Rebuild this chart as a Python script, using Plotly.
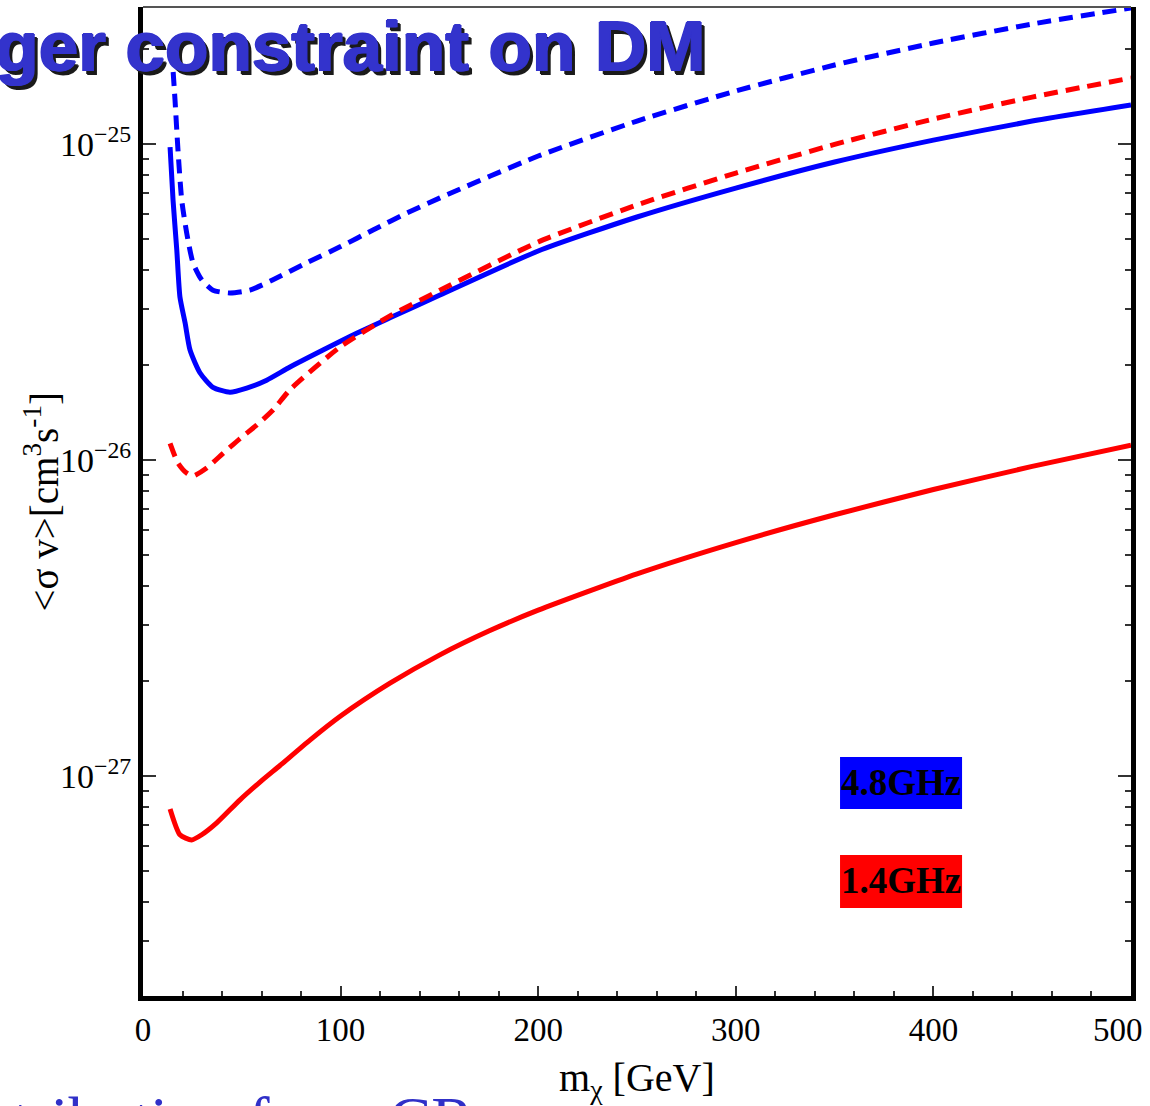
import plotly.graph_objects as go

# DM mass [GeV] and <sigma v> upper limits [cm^3 s^-1]
mass_48_dash = [14.5, 16.2, 17.7, 19.6, 22.1, 25.3, 29.7, 35.4, 44.0, 54.1, 65.8, 82.8,
                99.7, 116.4, 133.5, 150.3, 200, 250, 300, 350, 400, 450, 500]
sv_48_dash = [1.99e-25, 1.38e-25, 9.57e-26, 6.65e-26, 5.24e-26, 4.21e-26, 3.72e-26, 3.45e-26,
              3.38e-26, 3.45e-26, 3.72e-26, 4.21e-26, 4.73e-26, 5.35e-26, 6.05e-26, 6.76e-26,
              9.17e-26, 1.183e-25, 1.473e-25, 1.780e-25, 2.089e-25, 2.400e-25, 2.696e-25]

mass_48_solid = [13.7, 15.2, 17.1, 18.7, 21.3, 23.8, 28.8, 35.4, 44.0, 52.5, 62.6, 74.4,
                 91.1, 108.1, 125.0, 150.3, 200, 250, 300, 350, 400, 450, 500]
sv_48_solid = [9.79e-26, 6.65e-26, 4.62e-26, 3.28e-26, 2.72e-26, 2.23e-26, 1.89e-26, 1.70e-26,
               1.64e-26, 1.69e-26, 1.79e-26, 1.97e-26, 2.23e-26, 2.52e-26, 2.82e-26, 3.33e-26,
               4.59e-26, 5.88e-26, 7.26e-26, 8.78e-26, 1.030e-25, 1.183e-25, 1.330e-25]

mass_14_dash = [13.7, 17.7, 22.1, 25.3, 32.2, 40.5, 49.1, 57.5, 65.8, 74.4, 99.7, 125.0,
                150.3, 200, 250, 300, 350, 400, 450, 500]
sv_14_dash = [1.13e-26, 9.79e-27, 9.10e-27, 8.91e-27, 9.44e-27, 1.05e-26, 1.17e-26, 1.29e-26,
              1.44e-26, 1.67e-26, 2.28e-26, 2.86e-26, 3.45e-26, 4.90e-26, 6.42e-26, 8.10e-26,
              9.98e-26, 1.201e-25, 1.409e-25, 1.619e-25]

mass_14_solid = [13.7, 18.7, 24.6, 29.7, 37.3, 49.1, 59.2, 69.3, 84.5, 100, 125, 150,
                 175, 200, 250, 300, 350, 400, 450, 500]
sv_14_solid = [7.87e-28, 6.52e-28, 6.28e-28, 6.52e-28, 7.11e-28, 8.41e-28, 9.57e-28, 1.08e-27,
               1.30e-27, 1.549e-27, 1.968e-27, 2.415e-27, 2.877e-27, 3.350e-27, 4.365e-27,
               5.483e-27, 6.714e-27, 8.072e-27, 9.550e-27, 1.114e-26]

x_ticks = [0, 100, 200, 300, 400, 500]
x_tick_text = ["0", "100", "200", "300", "400", "500"]
y_ticks = [1e-27, 1e-26, 1e-25]
y_tick_text = ["10<sup>\u221227</sup>", "10<sup>\u221226</sup>", "10<sup>\u221225</sup>"]

BLUE = "#0000ff"
RED = "#ff0000"
SERIF = "Liberation Serif"
DASH = "14px,8px"


def curve(x, y, color, dashed):
    return go.Scatter(x=x, y=y, mode="lines",
                      line=dict(color=color, width=5, dash=DASH if dashed else "solid",
                                shape="spline", smoothing=0.6))


fig = go.Figure()
fig.add_trace(curve(mass_48_dash, sv_48_dash, BLUE, True))
fig.add_trace(curve(mass_48_solid, sv_48_solid, BLUE, False))
fig.add_trace(curve(mass_14_dash, sv_14_dash, RED, True))
fig.add_trace(curve(mass_14_solid, sv_14_solid, RED, False))

fig.update_layout(
    width=1150, height=1106,
    margin=dict(l=143, r=19, t=7, b=110),
    paper_bgcolor="white", plot_bgcolor="white",
    showlegend=False,
    font=dict(family=SERIF, color="black", size=34),
)

# the last x label is nudged inward separately so it stays on the page
fig.update_xaxes(
    range=[0, 500], tickvals=x_ticks, ticktext=x_tick_text[:-1] + [""],
    showgrid=False, zeroline=False, automargin=False,
    showline=True, linecolor="black", linewidth=5, mirror=False,
    ticks="inside", ticklen=10, tickwidth=2, tickcolor="#333",
    minor=dict(ticks="inside", dtick=20, ticklen=5, tickwidth=2, tickcolor="#333", showgrid=False),
    tickfont=dict(family=SERIF, size=33, color="black"),
)
fig.add_annotation(text=x_tick_text[-1], x=x_ticks[-1], xref="x", yref="paper", y=0,
                   xanchor="center", yanchor="top", xshift=-13, yshift=-14, showarrow=False,
                   font=dict(family=SERIF, size=33, color="black"))

fig.update_yaxes(
    type="log", range=[-27.696, -24.566],
    tickvals=y_ticks, ticktext=y_tick_text,
    showgrid=False, zeroline=False, automargin=False,
    showline=True, linecolor="black", linewidth=5, mirror="ticks",
    ticks="inside", ticklen=13, tickwidth=2, tickcolor="#333",
    minor=dict(ticks="inside", dtick="D1", ticklen=6, tickwidth=2, tickcolor="#333", showgrid=False),
    tickfont=dict(family=SERIF, size=34, color="black"),
)

# thin top frame edge
fig.add_shape(type="line", xref="paper", yref="paper", x0=0, x1=1, y0=1, y1=1,
              line=dict(color="#555", width=2))

# frequency key boxes
fig.add_shape(type="rect", xref="paper", yref="paper", x0=0.7055, x1=0.829, y0=0.1891, y1=0.2417,
              fillcolor=BLUE, line=dict(width=0), layer="above")
fig.add_shape(type="rect", xref="paper", yref="paper", x0=0.7055, x1=0.829, y0=0.0890, y1=0.1426,
              fillcolor=RED, line=dict(width=0), layer="above")
for label, ypos in (("4.8GHz", 0.2154), ("1.4GHz", 0.1163)):
    fig.add_annotation(text="<b>" + label + "</b>", xref="paper", yref="paper",
                       x=0.7672, y=ypos, xanchor="center", yanchor="middle",
                       showarrow=False, font=dict(family=SERIF, size=37, color="black"))

# axis titles
fig.add_annotation(text="m<sub>\u03c7</sub> [GeV]", xref="paper", yref="paper",
                   x=0.5, y=-0.0849, xanchor="center", yanchor="middle",
                   showarrow=False, font=dict(family=SERIF, size=40, color="black"))
fig.add_annotation(text="<\u03c3 v>[cm<sup>3</sup>s<sup>-1</sup>]", xref="paper", yref="paper",
                   x=-0.1033, y=0.50, xanchor="center", yanchor="middle", textangle=-90,
                   showarrow=False, font=dict(family=SERIF, size=39, color="black"))

# slide heading: drop shadow, then the heavy blue face (stacked copies for weight)
heading = "<b>Stronger constraint on DM</b>"
head_font = dict(family="Liberation Sans", size=71)
for dx, dy, col in [(3, -3, "#1a1a1a"), (4, -4, "#1a1a1a"),
                    (-1, 0, "#3333cc"), (1, 0, "#3333cc"), (0, 1, "#3333cc"), (0, 0, "#3333cc")]:
    fig.add_annotation(text=heading, xref="paper", yref="paper",
                       x=(707 - 143) / 988, y=(996 - 47) / 989, xanchor="right", yanchor="middle",
                       xshift=dx, yshift=dy, showarrow=False,
                       font=dict(color=col, **head_font))

# slide body text running below the figure
fig.add_annotation(text="Contribution from CR", xref="paper", yref="paper",
                   x=(-97 - 143) / 988, y=(996 - 1119) / 989, xanchor="left", yanchor="middle",
                   showarrow=False, font=dict(family=SERIF, size=64, color="#3030c8"))

fig.write_html("out.html")
